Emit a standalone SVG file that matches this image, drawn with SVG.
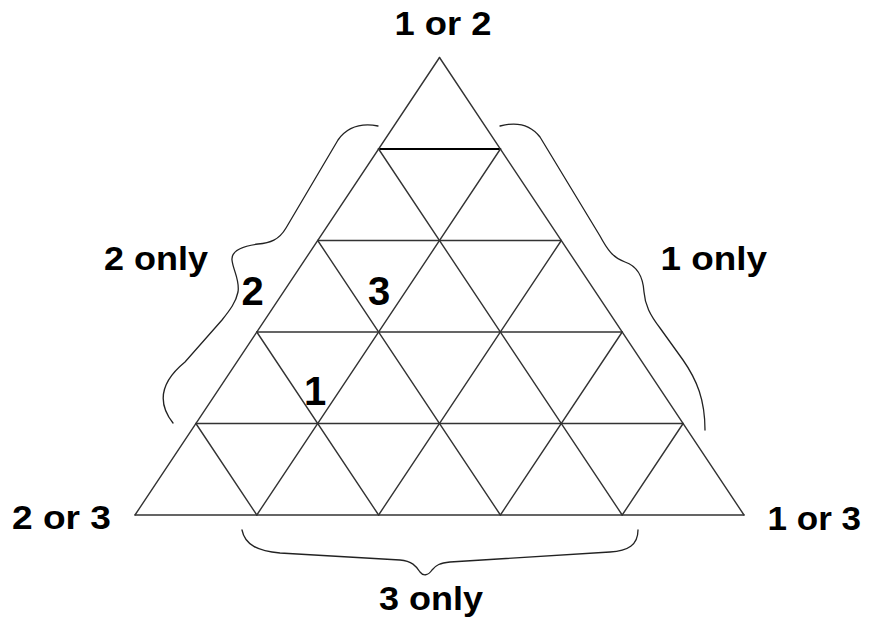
<svg xmlns="http://www.w3.org/2000/svg" width="869" height="620" viewBox="0 0 869 620">
<style>
.g{stroke:#333;stroke-width:1.4;fill:none;stroke-linecap:round}
.b{stroke:#222;stroke-width:1.3;fill:none;stroke-linecap:round}
.t{font-family:"Liberation Sans",Arial,sans-serif;font-weight:bold;font-size:33px;fill:#000}
.n{font-family:"Liberation Sans",Arial,sans-serif;font-weight:bold;font-size:40px;fill:#000;text-anchor:middle}
</style>
<rect width="869" height="620" fill="#fff"/>
<g id="grid">
<line class="g" x1="378.6" y1="149" x2="500.4" y2="149" style="stroke:#000;stroke-width:2"/>
<line class="g" x1="317.7" y1="240.5" x2="561.3" y2="240.5"/>
<line class="g" x1="256.8" y1="332" x2="622.2" y2="332"/>
<line class="g" x1="195.9" y1="423.5" x2="683.1" y2="423.5"/>
<line class="g" x1="135" y1="515" x2="744" y2="515"/>
<line class="g" x1="135" y1="515" x2="439.5" y2="57.5"/>
<line class="g" x1="256.8" y1="515" x2="500.4" y2="149"/>
<line class="g" x1="378.6" y1="515" x2="561.3" y2="240.5"/>
<line class="g" x1="500.4" y1="515" x2="622.2" y2="332"/>
<line class="g" x1="622.2" y1="515" x2="683.1" y2="423.5"/>
<line class="g" x1="256.8" y1="515" x2="195.9" y2="423.5"/>
<line class="g" x1="378.6" y1="515" x2="256.8" y2="332"/>
<line class="g" x1="500.4" y1="515" x2="317.7" y2="240.5"/>
<line class="g" x1="622.2" y1="515" x2="378.6" y2="149"/>
<line class="g" x1="744" y1="515" x2="439.5" y2="57.5"/>
</g>
<g id="braces">
<path id="brace-left" class="b" d="M378,126 C362,123 348,126 338,140 L286,228 C279,240 270,243 258,244 C243,246 231,250 232,260 C233,270 240,280 238,292 C236,302 230,310 222,320 L185,362 C163,380 155,400 173,423"/>
<path id="brace-right" class="b" d="M500,126 C515,122 530,124 540,137 L600,236 C607,249 613,258 625,262 C637,266 643,276 644,292 C645,305 650,315 660,328 L683,360 C697,380 705,400 705,430"/>
<path id="brace-bottom" class="b" d="M242,530 C245,545 258,551 280,553 L400,560 C412,561 416,566 420,572 C423,576 428,576 432,570 C436,565 440,563 450,562 L610,552 C628,551 638,545 638,530"/>
</g>
<g id="label-1or2"><text class="t" x="394.5" y="35" textLength="97" lengthAdjust="spacingAndGlyphs">1 or 2</text></g>
<g id="label-2only"><text class="t" x="104" y="270" textLength="104" lengthAdjust="spacingAndGlyphs">2 only</text></g>
<g id="label-1only"><text class="t" x="660.5" y="270" textLength="106.5" lengthAdjust="spacingAndGlyphs">1 only</text></g>
<g id="label-2or3"><text class="t" x="12" y="528.5" textLength="99" lengthAdjust="spacingAndGlyphs">2 or 3</text></g>
<g id="label-1or3"><text class="t" x="767.5" y="530" textLength="93.5" lengthAdjust="spacingAndGlyphs">1 or 3</text></g>
<g id="label-3only"><text class="t" x="379" y="610" textLength="104" lengthAdjust="spacingAndGlyphs">3 only</text></g>
<g id="cell-2"><text class="n" x="252.5" y="305">2</text></g>
<g id="cell-3"><text class="n" x="379" y="305">3</text></g>
<g id="cell-1"><text class="n" x="315" y="405">1</text></g>
</svg>
